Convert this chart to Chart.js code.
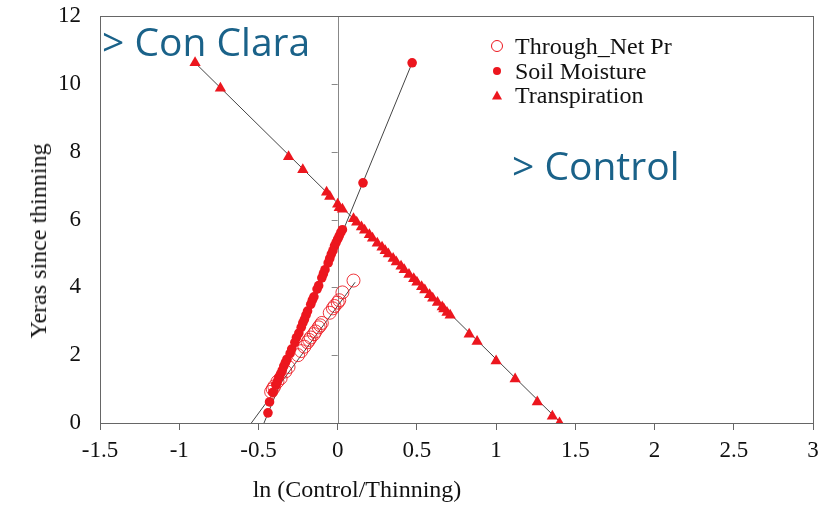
<!DOCTYPE html>
<html>
<head>
<meta charset="utf-8">
<script src="https://cdn.jsdelivr.net/npm/chart.js@4.4.1/dist/chart.umd.min.js"></script>
<style>
  html, body { margin: 0; padding: 0; background: #fff; }
  #wrap { position: relative; width: 832px; height: 505px; }
  canvas { position: absolute; left: 0; top: 0; }
  .note { position: absolute; font-family: "Open Sans", sans-serif; color: #1a6289; font-size: 39px; white-space: nowrap; line-height: 1; }
  .axt { position: absolute; font-family: "Liberation Serif", serif; font-size: 24px; color: #111; white-space: nowrap; line-height: 1; }
  .legend { position: absolute; left: 488px; top: 34px; font-family: "Liberation Serif", serif; font-size: 24px; color: #111; }
  .legend div { height: 24.5px; line-height: 24px; position: relative; padding-left: 27px; white-space: nowrap; }
  .mk { position: absolute; left: 9px; top: 12px; transform: translate(-50%, -50%); }
</style>
</head>
<body>
<div id="wrap">
  <canvas id="c" width="832" height="505"></canvas>
  <div class="note" style="left:102px; top:21px;">&gt; Con Clara</div>
  <div class="note" style="left:512px; top:145px;">&gt; Control</div>
  <div class="axt" style="left:357px; top:477px; transform:translateX(-50%);">ln (Control/Thinning)</div>
  <div class="axt" style="left:38px; top:241px; transform:translate(-50%,-50%) rotate(-90deg);">Yeras since thinning</div>
  <div class="legend" id="legend"></div>
</div>
<script>
// series names
const seriesNames = ['Through_Net Pr', 'Soil Moisture', 'Transpiration'];

// Through_Net Pr (open circles)
const throughX = [-0.42, -0.41, -0.40, -0.38, -0.36, -0.33, -0.31, -0.25, -0.23, -0.21, -0.19, -0.18, -0.17,
  -0.15, -0.14, -0.12, -0.11, -0.10, -0.05, -0.03, -0.02, 0.00, 0.01, 0.03, 0.10];
const throughY = [0.92, 1.00, 1.08, 1.22, 1.32, 1.52, 1.65, 2.00, 2.12, 2.25, 2.38, 2.45, 2.52,
  2.62, 2.70, 2.82, 2.88, 2.95, 3.25, 3.38, 3.45, 3.55, 3.62, 3.85, 4.20];

// Soil Moisture (filled circles)
const soilX = [-0.44, -0.43, -0.41, -0.39, -0.38, -0.37, -0.36, -0.35, -0.34, -0.33, -0.32, -0.30, -0.29,
  -0.27, -0.26, -0.245, -0.23, -0.22, -0.21, -0.20, -0.19, -0.17, -0.16, -0.15, -0.13, -0.12, -0.10,
  -0.09, -0.08, -0.06, -0.05, -0.04, -0.03, -0.02, -0.01, 0.00, 0.01, 0.02, 0.03, 0.16, 0.47];
const soilY = [0.30, 0.62, 0.90, 1.12, 1.22, 1.35, 1.45, 1.55, 1.68, 1.78, 1.88, 2.05, 2.18,
  2.38, 2.52, 2.65, 2.82, 2.95, 3.05, 3.18, 3.30, 3.50, 3.62, 3.72, 3.95, 4.05, 4.28,
  4.40, 4.52, 4.72, 4.85, 4.98, 5.08, 5.22, 5.32, 5.42, 5.52, 5.62, 5.70, 7.08, 10.62];

// Transpiration (triangles)
const transX = [-0.90, -0.74, -0.31, -0.22, -0.07, -0.05, 0.00, 0.01, 0.03, 0.10, 0.12, 0.15, 0.17, 0.20,
  0.22, 0.25, 0.28, 0.30, 0.32, 0.35, 0.37, 0.40, 0.42, 0.45, 0.48, 0.50, 0.53, 0.55, 0.58, 0.60,
  0.63, 0.66, 0.67, 0.69, 0.71, 0.83, 0.88, 1.00, 1.12, 1.26, 1.355, 1.40];
const transY = [10.62, 9.87, 7.85, 7.47, 6.80, 6.68, 6.45, 6.35, 6.30, 6.02, 5.92, 5.78, 5.68, 5.55,
  5.45, 5.30, 5.18, 5.08, 4.98, 4.85, 4.75, 4.62, 4.52, 4.38, 4.25, 4.15, 4.02, 3.92, 3.78, 3.68,
  3.55, 3.42, 3.36, 3.26, 3.18, 2.62, 2.40, 1.83, 1.30, 0.62, 0.20, 0.00];

// fitted lines (end points)
const throughFitX = [-0.545, 0.11];
const throughFitY = [0.00, 4.15];
const soilFitX = [-0.465, 0.47];
const soilFitY = [0.00, 10.62];
const transFitX = [-0.90, 1.41];
const transFitY = [10.62, 0.00];

// axis ticks
const xTicks = [-1.5, -1, -0.5, 0, 0.5, 1, 1.5, 2, 2.5, 3];
const yTicks = [0, 2, 4, 6, 8, 10, 12];

const red = 'rgb(236,22,30)';
const axisGrey = '#666';

const pts = (xs, ys) => xs.map((x, i) => ({ x: x, y: ys[i] }));

const fitLine = (xs, ys) => ({
  type: 'line', data: pts(xs, ys), borderColor: '#444', borderWidth: 1,
  pointRadius: 0, fill: false, order: 5
});

/* ---------- Legend (html) ---------- */
const legendEl = document.getElementById('legend');
const legendMarks = [
  '<span class="mk" style="width:10px;height:10px;border:1px solid ' + red + ';border-radius:50%;"></span>',
  '<span class="mk" style="width:8px;height:8px;background:' + red + ';border-radius:50%;"></span>',
  '<span class="mk" style="width:0;height:0;border-left:5px solid transparent;border-right:5px solid transparent;border-bottom:9px solid ' + red + ';"></span>'
];
seriesNames.forEach((name, i) => {
  const d = document.createElement('div');
  d.innerHTML = legendMarks[i] + name;
  legendEl.appendChild(d);
});

/* ---------- Zero line + frame ---------- */
const framePlugin = {
  id: 'frame',
  beforeDatasetsDraw(chart) {
    const { ctx, chartArea: a, scales } = chart;
    const x0 = scales.x.getPixelForValue(0);
    ctx.save();
    ctx.strokeStyle = '#888';
    ctx.lineWidth = 1;
    ctx.beginPath();
    ctx.moveTo(Math.round(x0) + 0.5, a.top);
    ctx.lineTo(Math.round(x0) + 0.5, a.bottom);
    yTicks.forEach(v => {
      const y = Math.round(scales.y.getPixelForValue(v)) + 0.5;
      ctx.moveTo(x0 - 6, y);
      ctx.lineTo(x0, y);
    });
    ctx.stroke();
    ctx.strokeStyle = axisGrey;
    ctx.strokeRect(a.left + 0.5, a.top + 0.5, a.right - a.left, a.bottom - a.top);
    ctx.restore();
  }
};

new Chart(document.getElementById('c'), {
  type: 'scatter',
  data: {
    datasets: [
      {
        label: seriesNames[0], data: pts(throughX, throughY),
        pointStyle: 'circle', pointRadius: 6.5, borderWidth: 1,
        borderColor: 'rgba(236,22,30,0.85)', backgroundColor: 'rgba(255,255,255,0)', order: 3
      },
      {
        label: seriesNames[1], data: pts(soilX, soilY),
        pointStyle: 'circle', pointRadius: 4.8, borderWidth: 0,
        backgroundColor: red, borderColor: red, order: 2
      },
      {
        label: seriesNames[2], data: pts(transX, transY),
        pointStyle: 'triangle', pointRadius: 6.5, borderWidth: 0,
        backgroundColor: red, borderColor: red, order: 1
      },
      fitLine(throughFitX, throughFitY),
      fitLine(soilFitX, soilFitY),
      fitLine(transFitX, transFitY)
    ]
  },
  options: {
    responsive: false,
    animation: false,
    layout: { padding: { top: 16, right: 19, left: 0, bottom: 0 } },
    plugins: { legend: { display: false }, tooltip: { enabled: false } },
    scales: {
      x: {
        type: 'linear', min: -1.5, max: 3,
        afterBuildTicks: s => { s.ticks = xTicks.map(v => ({ value: v })); },
        afterFit: s => { s.height = 82; s.paddingLeft = 0; s.paddingRight = 0; },
        grid: { drawOnChartArea: false, drawTicks: true, tickLength: 7, color: axisGrey },
        border: { display: true, color: axisGrey },
        ticks: {
          padding: 7, color: '#111',
          font: { family: 'Liberation Serif', size: 23 },
          callback: v => String(v)
        }
      },
      y: {
        type: 'linear', min: 0, max: 12,
        afterBuildTicks: s => { s.ticks = yTicks.map(v => ({ value: v })); },
        afterFit: s => { s.width = 100; s.paddingTop = 0; s.paddingBottom = 0; },
        grid: { drawOnChartArea: false, drawTicks: false },
        border: { display: true, color: axisGrey },
        ticks: {
          padding: 19, color: '#111',
          font: { family: 'Liberation Serif', size: 23 },
          callback: v => String(v)
        }
      }
    }
  },
  plugins: [framePlugin]
});
</script>
</body>
</html>
